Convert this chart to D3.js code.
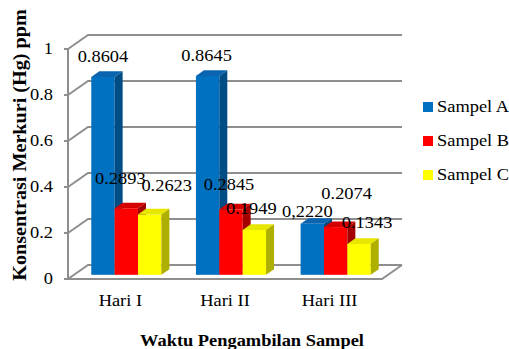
<!DOCTYPE html>
<html>
<head>
<meta charset="utf-8">
<script src="https://cdn.jsdelivr.net/npm/d3@7/dist/d3.min.js"></script>
<style>
  html, body { margin: 0; padding: 0; background: #fff; }
  svg text { font-family: "Liberation Serif", "Times New Roman", serif; fill: #000; }
</style>
</head>
<body>
<svg id="chart" width="509" height="349"></svg>
<script>
// Mercury concentration (ppm) per sampling day
const categories = ["Hari I", "Hari II", "Hari III"];
const seriesNames = ["Sampel A", "Sampel B", "Sampel C"];
const sampelA = [0.8604, 0.8645, 0.2220];
const sampelB = [0.2893, 0.2845, 0.2074];
const sampelC = [0.2623, 0.1949, 0.1343];
const labelsA = ["0.8604", "0.8645", "0,2220"];
const labelsB = ["0.2893", "0.2845", "0.2074"];
const labelsC = ["0.2623", "0.1949", "0.1343"];
const yTicks = [0, 0.2, 0.4, 0.6, 0.8, 1];
const yTickLabels = ["0", "0.2", "0.4", "0.6", "0.8", "1"];

// hand-placed label nudges (dx, dy from the bar's top centre), per series
const labelNudgeA = [[0, -20], [-1, -20], [-5, -12]];
const labelNudgeB = [[-6, -29], [-2, -24], [11, -33]];
const labelNudgeC = [[17, -29], [-3, -21], [8, -21]];

const series = [
  { name: seriesNames[0], values: sampelA, labels: labelsA, nudge: labelNudgeA,
    front: "#0070C0", top: "#0a64b0", side: "#004d86" },
  { name: seriesNames[1], values: sampelB, labels: labelsB, nudge: labelNudgeB,
    front: "#FF0000", top: "#d40000", side: "#a50000" },
  { name: seriesNames[2], values: sampelC, labels: labelsC, nudge: labelNudgeC,
    front: "#FFFF00", top: "#e6e600", side: "#afaf00" }
];

const svg = d3.select("#chart");
const SX = 1.15;           // horizontal stretch of all lettering
const gridColor = "#8e8e8e";

// 3-D box geometry: front plane + depth vector
const left = 68, right = 382;
const depth = { x: 20, y: -14 };
const barDepthStart = 0.3, barDepthSize = 0.4;

const y = d3.scaleLinear().domain([0, 1]).range([279, 49]);
const x0 = d3.scaleBand().domain(categories).range([left, right])
  .paddingInner(0.33).paddingOuter(0.165);
const x1 = d3.scaleBand().domain(seriesNames).range([0, x0.bandwidth()]);

function stretchedText(g, x, yy, str, opts = {}) {
  const t = g.append("text")
    .attr("transform", `translate(${x},${yy}) scale(${SX},1)`)
    .attr("font-size", opts.size || 16)
    .attr("text-anchor", opts.anchor || "middle")
    .text(str);
  if (opts.bold) t.attr("font-weight", "bold");
  if (opts.baseline) t.attr("dominant-baseline", opts.baseline);
  return t;
}

// ---- walls: gridlines on the back wall with diagonals on the side wall
const grid = svg.append("g").attr("fill", "none").attr("stroke", gridColor).attr("stroke-width", 2);
yTicks.forEach(t => {
  const yy = y(t);
  grid.append("path").attr("d",
    `M${left},${yy} L${left + depth.x},${yy + depth.y} L${right + depth.x},${yy + depth.y}`);
  grid.append("line").attr("x1", left - 4).attr("x2", left).attr("y1", yy).attr("y2", yy);
});
// floor outline + front axis
grid.append("path").attr("d",
  `M${left - 4},${y(0)} L${right},${y(0)} L${right + depth.x},${y(0) + depth.y}`);
grid.append("line").attr("x1", left).attr("x2", left).attr("y1", y(0)).attr("y2", y(1));

// ---- y tick labels
const tickG = svg.append("g");
yTicks.forEach((t, i) => {
  stretchedText(tickG, 53, y(t), yTickLabels[i], { anchor: "end", baseline: "central" });
});

// ---- bars
const bx = depth.x * barDepthStart, by = depth.y * barDepthStart;
const dx = depth.x * barDepthSize, dy = depth.y * barDepthSize;
const w = x1.bandwidth();
const bars = svg.append("g");
const barInfo = [];
categories.forEach((cat, ci) => {
  series.forEach(s => {
    const v = s.values[ci];
    const xl = x0(cat) + x1(s.name) + bx;
    const base = y(0) + by;
    const top = y(v) + by;
    const g = bars.append("g");
    g.append("rect").attr("x", xl).attr("y", top).attr("width", w).attr("height", base - top)
      .attr("fill", s.front);
    g.append("path").attr("fill", s.top).attr("d",
      `M${xl},${top} L${xl + dx},${top + dy} L${xl + w + dx},${top + dy} L${xl + w},${top} Z`);
    g.append("path").attr("fill", s.side).attr("d",
      `M${xl + w},${top} L${xl + w + dx},${top + dy} L${xl + w + dx},${base + dy} L${xl + w},${base} Z`);
    barInfo.push({ s, ci, cx: xl + w / 2, top });
  });
});

// ---- value labels
const lab = svg.append("g");
barInfo.forEach(b => {
  const [nx, ny] = b.s.nudge[b.ci];
  stretchedText(lab, b.cx + nx, b.top + ny, b.s.labels[b.ci], { baseline: "central" });
});

// ---- category labels
const catG = svg.append("g");
categories.forEach(c => {
  stretchedText(catG, x0(c) + x0.bandwidth() / 2, 306, c);
});

// ---- axis titles
stretchedText(svg, 252, 346, "Waktu Pengambilan Sampel", { bold: true });
svg.append("text")
  .attr("transform", "translate(26,145) rotate(-90) scale(1.12,1.1)")
  .attr("font-size", 18).attr("font-weight", "bold").attr("text-anchor", "middle")
  .text("Konsentrasi Merkuri (Hg) ppm");

// ---- legend
const leg = svg.append("g");
series.forEach((s, i) => {
  const cy = 107 + i * 34;
  leg.append("rect").attr("x", 423).attr("y", cy - 5).attr("width", 10).attr("height", 10)
    .attr("fill", s.front);
  stretchedText(leg, 437, cy, s.name, { anchor: "start", baseline: "central" });
});
</script>
</body>
</html>
